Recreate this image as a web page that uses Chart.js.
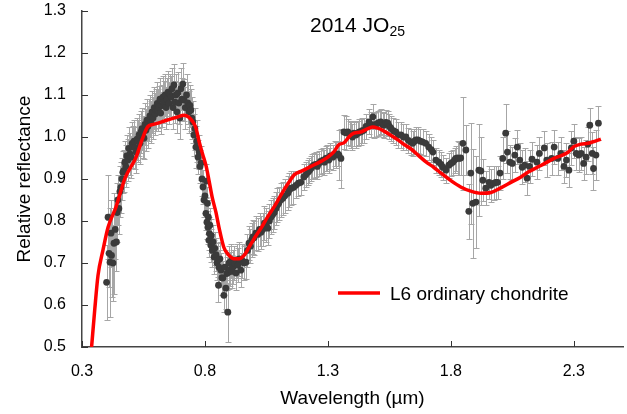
<!DOCTYPE html>
<html><head><meta charset="utf-8">
<script src="https://cdn.jsdelivr.net/npm/chart.js@4.4.0/dist/chart.umd.min.js"></script>
<style>html,body{margin:0;padding:0;background:#fff}#wrap{width:627px;height:414px;position:relative}</style>
</head><body><div id="wrap"><canvas id="c" width="627" height="414"></canvas></div>
<script>
const xTicks = [0.3, 0.8, 1.3, 1.8, 2.3];
const yTicks = [0.5, 0.6, 0.7, 0.8, 0.9, 1.0, 1.1, 1.2, 1.3];
const titleMain = '2014 JO';
const titleSub = '25';
const modelLabel = 'L6 ordinary chondrite';

// Observed spectrum of 2014 JO25 (wavelength in micron, relative reflectance, 1-sigma error)
const wavelength = [
0.400,0.406,0.410,0.414,0.418,0.420,0.426,0.430,0.435,0.440,0.443,0.446,0.450,0.454,0.458,0.462,0.466,0.470,0.474,0.478,
0.482,0.487,0.490,0.495,0.500,0.504,0.507,0.512,0.516,0.520,0.524,0.528,0.532,0.536,0.540,0.544,0.548,0.552,0.556,0.560,
0.564,0.568,0.572,0.576,0.580,0.585,0.589,0.594,0.598,0.602,0.606,0.609,0.613,0.617,0.620,0.625,0.629,0.633,0.638,0.642,
0.646,0.650,0.654,0.658,0.662,0.666,0.670,0.674,0.678,0.682,0.686,0.690,0.694,0.698,0.702,0.706,0.710,0.715,0.720,0.725,
0.730,0.735,0.739,0.743,0.747,0.751,0.755,0.759,0.763,0.767,0.772,0.776,0.780,0.784,0.788,0.792,0.796,0.800,0.804,0.806,
0.808,0.810,0.812,0.814,0.816,0.818,0.820,0.824,0.826,0.830,0.833,0.837,0.840,0.845,0.849,0.853,0.855,0.857,0.861,0.865,
0.869,0.873,0.877,0.881,0.885,0.889,0.893,0.896,0.898,0.902,0.906,0.910,0.914,0.920,0.926,0.930,0.934,0.940,0.946,0.952,
0.959,0.967,0.973,0.979,0.985,0.990,0.995,1.000,1.007,1.015,1.022,1.028,1.035,1.042,1.048,1.056,1.062,1.068,1.075,1.082,
1.089,1.095,1.100,1.108,1.117,1.125,1.137,1.143,1.150,1.160,1.170,1.180,1.190,1.202,1.210,1.219,1.225,1.231,1.237,1.243,
1.250,1.257,1.263,1.270,1.280,1.286,1.292,1.298,1.304,1.310,1.320,1.327,1.333,1.340,1.345,1.353,1.365,1.372,1.381,1.388,
1.393,1.400,1.406,1.414,1.422,1.428,1.434,1.440,1.446,1.455,1.467,1.475,1.483,1.487,1.495,1.503,1.510,1.515,1.522,1.528,
1.536,1.544,1.550,1.556,1.566,1.576,1.586,1.597,1.607,1.617,1.627,1.637,1.645,1.652,1.658,1.666,1.676,1.686,1.698,1.710,
1.720,1.727,1.739,1.751,1.760,1.767,1.780,1.792,1.800,1.808,1.815,1.820,1.827,1.833,1.840,1.849,1.861,1.873,1.881,1.889,
1.902,1.914,1.922,1.930,1.942,1.955,1.963,1.975,1.983,1.990,2.000,2.011,2.023,2.030,2.040,2.050,2.060,2.070,2.080,2.090,
2.100,2.110,2.120,2.130,2.150,2.160,2.180,2.190,2.210,2.220,2.235,2.247,2.260,2.270,2.280,2.290,2.300,2.310,2.320,2.330,
2.340,2.350,2.357,2.365,2.375,2.380,2.390,2.400];
const reflectance = [
0.654,0.809,0.723,0.702,0.771,0.718,0.700,0.747,0.780,0.750,0.820,0.850,0.830,0.870,0.880,0.900,0.916,0.920,0.940,0.930,
0.955,0.945,0.973,0.960,0.952,0.985,0.976,0.990,0.975,0.964,0.995,0.990,1.005,0.985,1.012,1.020,1.000,0.997,1.030,1.016,
1.040,1.025,1.040,1.050,1.035,1.060,1.045,1.070,1.055,1.064,1.080,1.065,1.071,1.090,1.057,1.075,1.095,1.083,1.100,1.070,
1.090,1.107,1.080,1.100,1.095,1.115,1.070,1.124,1.083,1.100,1.060,1.105,1.081,1.045,1.115,1.090,1.126,1.088,1.070,1.100,
1.081,1.060,1.075,1.064,1.045,1.036,1.005,1.020,0.976,0.990,0.952,0.965,0.930,0.938,0.900,0.881,0.850,0.860,0.818,0.895,
0.797,0.842,0.785,0.809,0.754,0.770,0.790,0.742,0.765,0.730,0.750,0.714,0.735,0.720,0.700,0.707,0.647,0.690,0.710,0.683,
0.665,0.664,0.623,0.690,0.640,0.675,0.583,0.678,0.700,0.685,0.705,0.680,0.690,0.700,0.676,0.705,0.695,0.710,0.683,0.705,
0.700,0.702,0.730,0.747,0.740,0.755,0.762,0.760,0.771,0.768,0.780,0.773,0.780,0.795,0.790,0.783,0.800,0.809,0.815,0.820,
0.830,0.838,0.842,0.850,0.854,0.860,0.866,0.874,0.878,0.880,0.885,0.890,0.892,0.905,0.910,0.916,0.920,0.925,0.930,0.933,
0.935,0.930,0.937,0.942,0.945,0.940,0.949,0.950,0.945,0.955,0.952,0.960,0.957,0.960,0.957,0.949,1.012,1.010,1.012,1.008,
1.005,1.000,1.009,1.005,1.009,1.012,1.012,1.015,1.016,1.025,1.036,1.030,1.048,1.028,1.030,1.033,1.035,1.036,1.030,1.028,
1.035,1.033,1.025,1.021,1.015,1.012,1.005,1.005,1.000,1.000,0.992,0.988,0.985,0.990,0.993,0.993,0.990,0.988,0.985,0.976,
0.970,0.964,0.945,0.940,0.935,0.928,0.921,0.933,0.937,0.940,0.945,0.949,0.950,0.949,0.950,0.985,0.969,0.823,0.914,0.842,
0.845,0.921,0.919,0.897,0.878,0.892,0.885,0.890,0.892,0.892,0.914,0.949,1.009,0.964,0.940,0.937,0.957,0.976,0.945,0.928,
0.933,0.902,0.930,0.947,0.940,0.961,0.974,0.945,0.949,0.976,0.949,0.961,0.930,0.945,0.921,0.974,0.990,0.961,0.957,0.961,
0.937,0.952,0.983,1.028,0.961,0.925,0.957,1.033];
const errors = [
0.09,0.10,0.08,0.13,0.08,0.10,0.09,0.12,0.07,0.07,0.07,0.06,0.06,0.06,0.06,0.05,0.05,0.05,0.05,0.05,
0.05,0.05,0.05,0.05,0.05,0.05,0.05,0.05,0.05,0.05,0.05,0.05,0.05,0.05,0.05,0.05,0.05,0.05,0.05,0.05,
0.05,0.05,0.05,0.05,0.05,0.05,0.05,0.05,0.05,0.05,0.05,0.05,0.05,0.05,0.05,0.05,0.05,0.05,0.05,0.05,
0.05,0.05,0.05,0.05,0.05,0.05,0.05,0.05,0.05,0.05,0.05,0.05,0.05,0.05,0.05,0.05,0.05,0.05,0.05,0.05,
0.05,0.05,0.05,0.05,0.05,0.05,0.05,0.05,0.05,0.05,0.04,0.04,0.04,0.04,0.04,0.04,0.04,0.04,0.04,0.04,
0.04,0.04,0.04,0.04,0.04,0.04,0.04,0.04,0.04,0.04,0.04,0.04,0.04,0.04,0.04,0.04,0.04,0.04,0.04,0.04,
0.04,0.04,0.04,0.04,0.05,0.04,0.07,0.04,0.04,0.04,0.04,0.04,0.04,0.04,0.04,0.04,0.04,0.04,0.04,0.04,
0.04,0.04,0.04,0.04,0.04,0.04,0.04,0.04,0.04,0.04,0.04,0.04,0.04,0.04,0.04,0.04,0.04,0.04,0.04,0.04,
0.04,0.04,0.04,0.04,0.04,0.04,0.04,0.04,0.04,0.04,0.03,0.03,0.03,0.03,0.03,0.03,0.03,0.03,0.03,0.03,
0.03,0.03,0.03,0.03,0.03,0.03,0.03,0.03,0.03,0.03,0.03,0.03,0.03,0.03,0.06,0.07,0.04,0.04,0.03,0.03,
0.03,0.03,0.03,0.03,0.03,0.03,0.03,0.03,0.03,0.03,0.03,0.03,0.03,0.03,0.03,0.03,0.03,0.03,0.03,0.03,
0.03,0.03,0.03,0.03,0.03,0.03,0.03,0.03,0.03,0.03,0.03,0.03,0.03,0.03,0.03,0.03,0.03,0.03,0.03,0.03,
0.03,0.03,0.03,0.03,0.03,0.03,0.03,0.03,0.03,0.03,0.03,0.03,0.04,0.04,0.04,0.11,0.06,0.066,0.12,0.13,
0.11,0.11,0.08,0.05,0.04,0.04,0.04,0.04,0.04,0.04,0.04,0.05,0.07,0.05,0.04,0.04,0.04,0.04,0.04,0.04,
0.04,0.04,0.04,0.04,0.04,0.04,0.04,0.04,0.04,0.04,0.04,0.04,0.04,0.04,0.04,0.04,0.04,0.04,0.04,0.04,
0.04,0.04,0.04,0.04,0.05,0.05,0.06,0.04];

// L6 ordinary chondrite laboratory spectrum
const modelWavelength = [0.339,0.352,0.365,0.385,0.406,0.438,0.475,0.520,0.545,0.568,0.590,0.609,0.635,0.662,0.690,0.715,0.735,0.750,0.763,0.776,
0.790,0.805,0.817,0.830,0.845,0.857,0.877,0.898,0.918,0.939,0.959,0.979,0.999,1.028,1.056,1.085,1.113,1.140,1.165,1.190,
1.231,1.272,1.300,1.325,1.345,1.365,1.385,1.406,1.434,1.463,1.483,1.503,1.528,1.556,1.585,1.610,1.637,1.670,1.700,1.730,
1.760,1.800,1.840,1.881,1.922,1.963,2.003,2.044,2.085,2.113,2.166,2.219,2.275,2.300,2.329,2.357,2.375,2.410];
const modelReflectance = [0.500,0.590,0.670,0.730,0.785,0.833,0.902,0.952,0.995,1.025,1.030,1.033,1.038,1.043,1.048,1.052,1.047,1.037,1.022,0.990,
0.960,0.930,0.895,0.855,0.820,0.785,0.737,0.718,0.710,0.710,0.718,0.737,0.757,0.783,0.811,0.837,0.866,0.891,0.911,0.918,
0.930,0.942,0.952,0.965,0.982,0.986,1.000,1.009,1.012,1.020,1.024,1.021,1.014,1.004,0.993,0.982,0.972,0.955,0.940,0.928,
0.914,0.896,0.881,0.871,0.866,0.868,0.879,0.892,0.905,0.916,0.932,0.949,0.963,0.977,0.983,0.985,0.988,0.995];

const FONT = '"Liberation Sans", Arial, Helvetica, sans-serif';
const obsPoints = wavelength.map((w, i) => ({x: w, y: reflectance[i]}));
const modelPoints = modelWavelength.map((w, i) => ({x: w, y: modelReflectance[i]}));

const errorBarPlugin = {
  id: 'errorBars',
  beforeDatasetsDraw(chart) {
    const {ctx, chartArea: a, scales: {x, y}} = chart;
    ctx.save();
    ctx.beginPath(); ctx.rect(a.left, a.top, a.right - a.left, a.bottom - a.top); ctx.clip();
    ctx.strokeStyle = '#a6a6a6'; ctx.lineWidth = 1;
    ctx.beginPath();
    wavelength.forEach((w, i) => {
      const px = Math.round(x.getPixelForValue(w)) + 0.5;
      const t = Math.round(y.getPixelForValue(reflectance[i] + errors[i])) + 0.5;
      const b = Math.round(y.getPixelForValue(reflectance[i] - errors[i])) + 0.5;
      ctx.moveTo(px, t); ctx.lineTo(px, b);
      ctx.moveTo(px - 3, t); ctx.lineTo(px + 3, t);
      ctx.moveTo(px - 3, b); ctx.lineTo(px + 3, b);
    });
    ctx.stroke();
    ctx.restore();
  }
};

const decorPlugin = {
  id: 'decor',
  afterDraw(chart) {
    const {ctx, chartArea: a, scales: {x, y}} = chart;
    ctx.save();
    // inward tick marks
    ctx.strokeStyle = '#333'; ctx.lineWidth = 1;
    ctx.beginPath();
    xTicks.forEach(v => { const px = Math.round(x.getPixelForValue(v)) + 0.5; ctx.moveTo(px, a.bottom); ctx.lineTo(px, a.bottom - 6); });
    yTicks.forEach(v => { const py = Math.round(y.getPixelForValue(v)) + 0.5; ctx.moveTo(a.left, py); ctx.lineTo(a.left + 6, py); });
    ctx.stroke();
    // title with subscript
    ctx.fillStyle = '#000';
    ctx.textBaseline = 'alphabetic';
    ctx.textAlign = 'left';
    ctx.font = '21px ' + FONT;
    ctx.fillText(titleMain, 310, 32);
    const w = ctx.measureText(titleMain).width;
    ctx.font = '14px ' + FONT;
    ctx.fillText(titleSub, 310 + w, 36);
    // legend
    ctx.strokeStyle = '#ff0000'; ctx.lineWidth = 3.5;
    ctx.beginPath(); ctx.moveTo(338, 293); ctx.lineTo(380, 293); ctx.stroke();
    ctx.font = '19px ' + FONT;
    ctx.fillText(modelLabel, 390, 300);
    ctx.restore();
  }
};

new Chart(document.getElementById('c'), {
  type: 'scatter',
  data: {
    datasets: [
      {label: modelLabel, type: 'line', data: modelPoints, borderColor: '#ff0000', backgroundColor: '#ff0000',
       borderWidth: 3.5, pointRadius: 0, showLine: true, fill: false, cubicInterpolationMode: 'monotone', order: 0},
      {label: '2014 JO25', data: obsPoints, pointRadius: 3.4, pointBackgroundColor: '#3a3a3a', pointBorderWidth: 0,
       pointBorderColor: '#3a3a3a', order: 1}
    ]
  },
  options: {
    responsive: false, animation: false, devicePixelRatio: 1,
    layout: {padding: {left: 0, top: 11, right: 4, bottom: 0}},
    plugins: {legend: {display: false}, tooltip: {enabled: false}, title: {display: false}},
    scales: {
      x: {
        type: 'linear', min: 0.3, max: 2.5,
        afterFit(s) { s.height = 67; s.paddingLeft = 0; s.paddingRight = 0; },
        afterBuildTicks(s) { s.ticks = xTicks.map(v => ({value: v})); },
        grid: {display: true, drawOnChartArea: false, drawTicks: false},
        border: {display: true, color: '#444', width: 1.5},
        ticks: {padding: 15, color: '#000', font: {family: FONT, size: 16}, maxRotation: 0, callback: v => v.toFixed(1)},
        title: {display: true, text: 'Wavelength (\u00b5m)', color: '#000', font: {family: FONT, size: 19}, padding: {top: 0, bottom: 4}}
      },
      y: {
        type: 'linear', min: 0.5, max: 1.3,
        afterFit(s) { s.width = 82; s.paddingTop = 0; s.paddingBottom = 0; },
        afterBuildTicks(s) { s.ticks = yTicks.map(v => ({value: v})); },
        grid: {display: true, drawOnChartArea: false, drawTicks: false},
        border: {display: true, color: '#444', width: 1.5},
        ticks: {padding: 16, color: '#000', font: {family: FONT, size: 16}, callback: v => v.toFixed(1)},
        title: {display: true, text: 'Relative reflectance', color: '#000', font: {family: FONT, size: 19}, padding: {top: 13, bottom: 0}}
      }
    }
  },
  plugins: [errorBarPlugin, decorPlugin]
});
</script>
</body></html>
